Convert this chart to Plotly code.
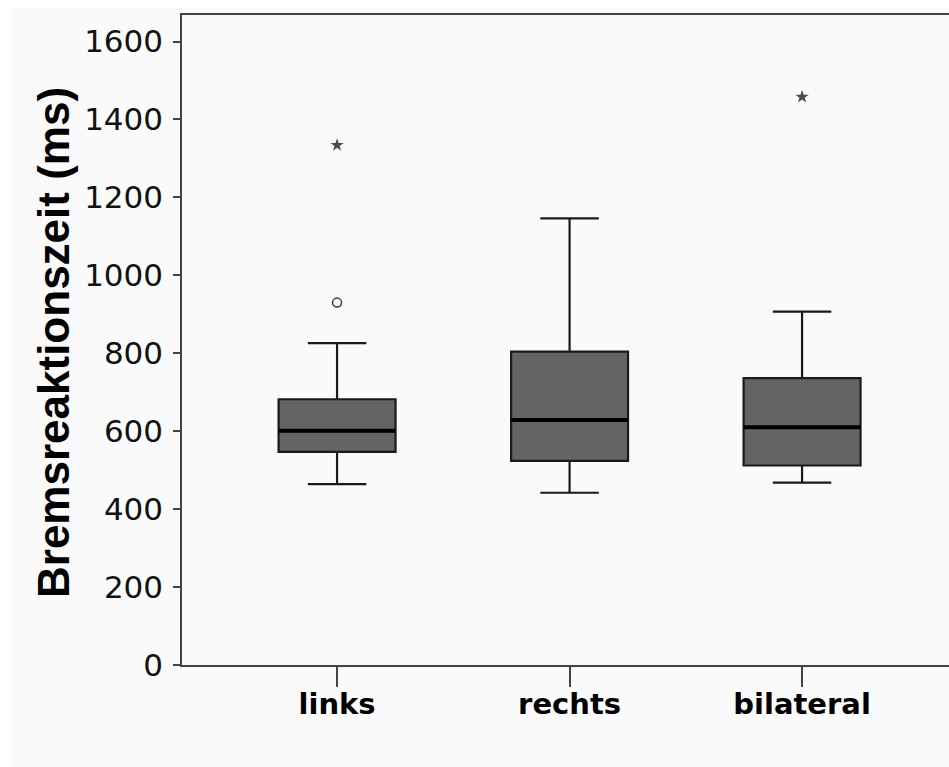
import plotly.graph_objects as go

categories = ["links", "rechts", "bilateral"]
lower_whisker = [464, 442, 468]
q1 = [547, 524, 512]
median = [601, 629, 610]
q3 = [682, 804, 736]
upper_whisker = [826, 1146, 907]
outlier_circle_cat = ["links"]
outlier_circle_val = [930]
outlier_star_cat = ["links", "bilateral"]
outlier_star_val = [1334, 1458]
ref_value = 600
y_ticks = [0, 200, 400, 600, 800, 1000, 1200, 1400, 1600]

BOX_W = 0.503
pos = {c: i for i, c in enumerate(categories)}

fig = go.Figure()

for i, c in enumerate(categories):
    fig.add_trace(go.Box(
        x=[i], q1=[q1[i]], median=[median[i]], q3=[q3[i]],
        lowerfence=[lower_whisker[i]], upperfence=[upper_whisker[i]],
        width=BOX_W, whiskerwidth=0.5,
        fillcolor="#646464", line=dict(color="#1a1a1a", width=2.2),
        boxpoints=False, showlegend=False, hoverinfo="skip",
    ))
    fig.add_trace(go.Scatter(
        x=[i - BOX_W / 2, i + BOX_W / 2], y=[median[i], median[i]],
        mode="lines", line=dict(color="#000000", width=4),
        showlegend=False, hoverinfo="skip",
    ))

fig.add_trace(go.Scatter(
    x=[pos[c] for c in outlier_circle_cat], y=outlier_circle_val, mode="markers",
    marker=dict(symbol="circle-open", size=9, color="#3a3a3a", line=dict(width=1.5)),
    showlegend=False,
))
fig.add_trace(go.Scatter(
    x=[pos[c] for c in outlier_star_cat], y=outlier_star_val, mode="markers",
    marker=dict(symbol="star", size=10, color="#4a4a4a"),
    showlegend=False,
))

L, T, B = 182, 15, 102
W, H = 949, 767
pw = W - L
ph = H - T - B

fig.add_shape(type="line", xref="paper", yref="y", x0=0, x1=1,
              y0=ref_value, y1=ref_value, line=dict(color="#111111", width=1.2),
              layer="below")
fig.add_shape(type="rect", xref="paper", yref="paper",
              x0=(9 - L) / pw, x1=1.05, y0=-B / ph - 0.05, y1=1 + (T - 8) / ph,
              fillcolor="#fafafa", line=dict(width=0), layer="below")

fig.add_annotation(
    text="Bremsreaktionszeit (ms)", textangle=-90,
    xref="paper", yref="paper", x=(53 - L) / pw, y=(665 - 343) / ph,
    xanchor="center", yanchor="middle", showarrow=False,
    font=dict(family="Liberation Sans", size=44, color="#000000", weight="bold"),
)

fig.update_layout(
    width=W, height=H,
    margin=dict(l=L, r=0, t=T, b=B),
    paper_bgcolor="#ffffff", plot_bgcolor="#fafafa",
    xaxis=dict(
        range=[-0.667, 2.632], tickmode="array", tickvals=list(range(len(categories))),
        ticktext=categories, showgrid=False, zeroline=False,
        showline=True, linecolor="#444444", linewidth=1.5, mirror=True,
        ticks="outside", ticklen=20, tickcolor="#444444", tickwidth=1.5,
        ticklabelstandoff=-8,
        tickfont=dict(family="DejaVu Sans", size=29, color="#000000", weight="bold"),
    ),
    yaxis=dict(
        range=[0, 1668], tickmode="array", tickvals=y_ticks,
        showgrid=False, zeroline=False,
        showline=True, linecolor="#444444", linewidth=1.5,
        ticks="outside", ticklen=7, tickcolor="#444444", tickwidth=1.5,
        ticklabelstandoff=4,
        tickfont=dict(family="DejaVu Sans", size=31, color="#111111"),
    ),
)

fig.write_html("out.html")
